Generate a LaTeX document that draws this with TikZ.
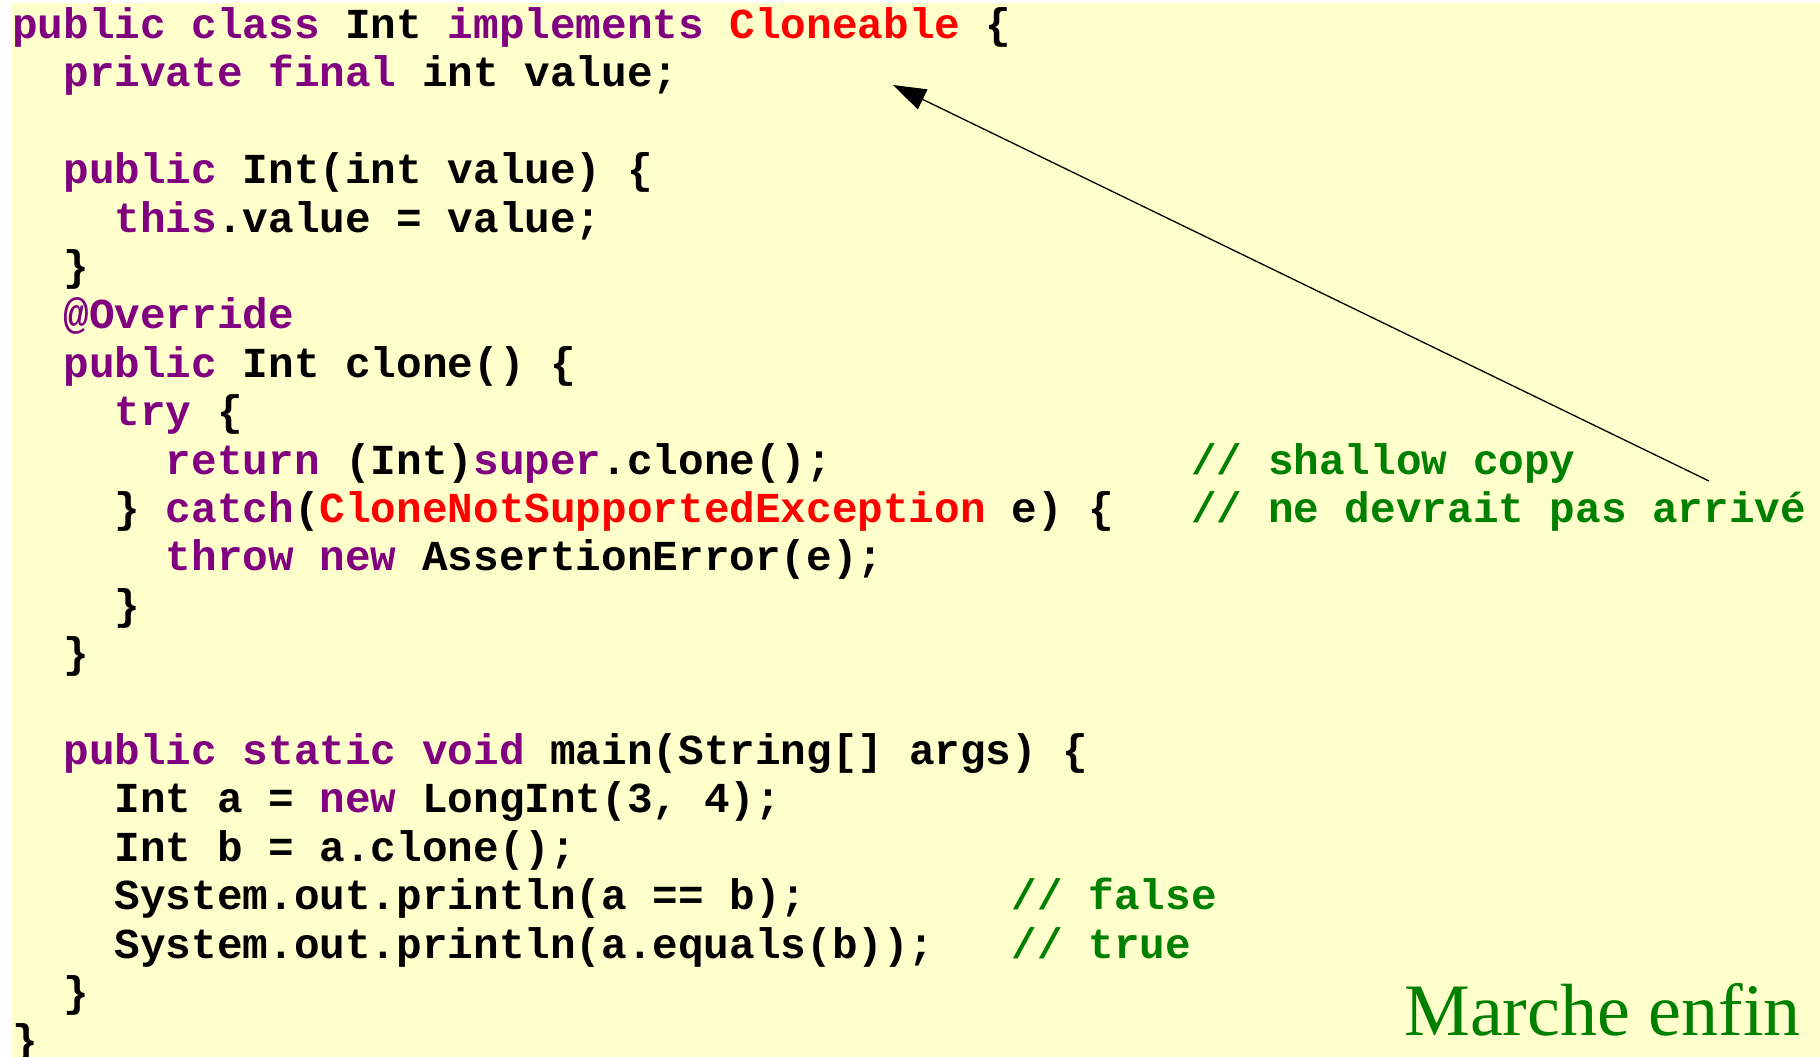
\documentclass[tikz,border=0pt]{standalone}
\usepackage{fontspec}
\usetikzlibrary{arrows.meta}
\newfontfamily\codefont[WordSpace={1,0,0}]{Liberation Mono}
\newfontfamily\slidefont{Liberation Serif}
\definecolor{kwcol}{HTML}{800080}
\definecolor{excol}{HTML}{FF0000}
\definecolor{cmcol}{HTML}{008000}
\definecolor{bgcol}{HTML}{FFFFCC}
\newcommand{\kwd}[1]{\textcolor{kwcol}{#1}}
\newcommand{\exc}[1]{\textcolor{excol}{#1}}
\newcommand{\codeline}[4]{\node[code] (#1) at ({12+#2*25.63},{38.5+#3*48.4}) {#4};}
\newcommand{\commentline}[4]{\node[comment] (#1) at ({12+#2*25.63},{38.5+#3*48.4}) {#4};}
\begin{document}
\begin{tikzpicture}[x=1pt,y=-1pt,
  code/.style={anchor=base west, inner sep=0pt, text=black,
    font=\codefont\bfseries\fontsize{42.7}{48}\selectfont\frenchspacing},
  comment/.style={code, text=cmcol},
  pointer/.style={draw=black, line width=1.3pt, -{Triangle[length=33pt,width=22pt]}}]
\useasboundingbox (0,0) rectangle (1820,1057);
\fill[white] (0,0) rectangle (1820,1057);
\fill[bgcol] (12,3) rectangle (1820,1057);
\codeline{l0}{0}{0}{\kwd{public class} Int \kwd{implements} \exc{Cloneable} \{}
\codeline{l1}{2}{1}{\kwd{private final} int value;}
\codeline{l3}{2}{3}{\kwd{public} Int(int value) \{}
\codeline{l4}{4}{4}{\kwd{this}.value = value;}
\codeline{l5}{2}{5}{\}}
\codeline{l6}{2}{6}{\kwd{@Override}}
\codeline{l7}{2}{7}{\kwd{public} Int clone() \{}
\codeline{l8}{4}{8}{\kwd{try} \{}
\codeline{l9}{6}{9}{\kwd{return} (Int)\kwd{super}.clone();}
\commentline{c9}{46}{9}{// shallow copy}
\codeline{l10}{4}{10}{\} \kwd{catch}(\exc{CloneNotSupportedException} e) \{}
\commentline{c10}{46}{10}{// ne devrait pas arrivé}
\codeline{l11}{6}{11}{\kwd{throw new} AssertionError(e);}
\codeline{l12}{4}{12}{\}}
\codeline{l13}{2}{13}{\}}
\codeline{l15}{2}{15}{\kwd{public static void} main(String[] args) \{}
\codeline{l16}{4}{16}{Int a = \kwd{new} LongInt(3, 4);}
\codeline{l17}{4}{17}{Int b = a.clone();}
\codeline{l18}{4}{18}{System.out.println(a == b);}
\commentline{c18}{39}{18}{// false}
\codeline{l19}{4}{19}{System.out.println(a.equals(b));}
\commentline{c19}{39}{19}{// true}
\codeline{l20}{2}{20}{\}}
\codeline{l21}{0}{21}{\}}
\node[anchor=base west, inner sep=0pt, text=cmcol, font=\slidefont\fontsize{74}{80}\selectfont] (title) at (1404,1035) {Marche enfin};
\coordinate (tail) at (1709,481);
\coordinate (tip) at (893,85);
\draw[pointer] (tail) -- (tip);
\end{tikzpicture}
\end{document}
